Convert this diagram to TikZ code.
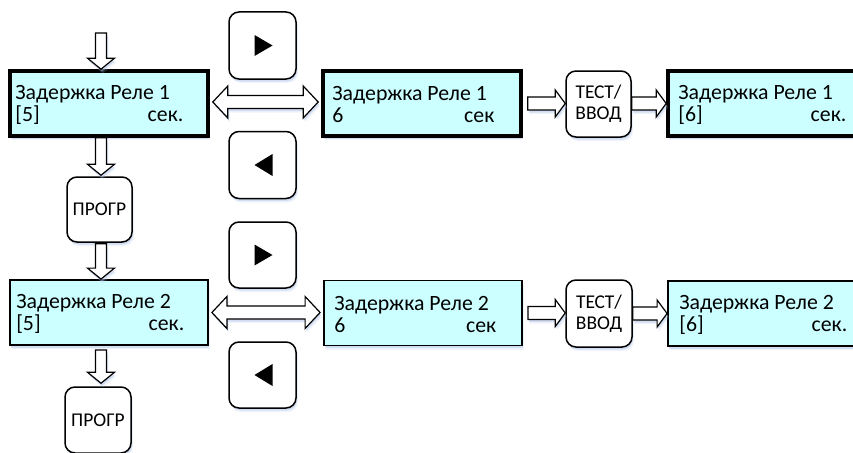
\documentclass[tikz,border=0pt]{standalone}
\usepackage{fontspec}
\setmainfont{Carlito}
\usetikzlibrary{calc,shadows}

\definecolor{lcd}{RGB}{204,255,255}
\definecolor{shade}{RGB}{175,195,230}

% second display line: value on the left, unit pushed to the right edge
\newcommand\lcdline[3]{\makebox[#1][s]{#2\hfill#3}}

% block arrows: east-pointing, south-pointing and two-headed
\newcommand\arrowE[2]{\path[blockarrow] let \p1=#1, \p2=#2 in
  (\x1,\y1+6.5pt) -- (\x2-10pt,\y1+6.5pt) -- (\x2-10pt,\y1+13.5pt) -- (\x2,\y1)
  -- (\x2-10pt,\y1-13.5pt) -- (\x2-10pt,\y1-6.5pt) -- (\x1,\y1-6.5pt) -- cycle;}
\newcommand\arrowS[2]{\path[blockarrow] let \p1=#1, \p2=#2 in
  (\x1-5.5pt,\y1) -- (\x1-5.5pt,\y2+11pt) -- (\x1-13.5pt,\y2+11pt) -- (\x1,\y2)
  -- (\x1+13.5pt,\y2+11pt) -- (\x1+5.5pt,\y2+11pt) -- (\x1+5.5pt,\y1) -- cycle;}
\newcommand\arrowEW[2]{\path[blockarrow] let \p1=#1, \p2=#2 in
  (\x1,\y1) -- (\x1+15pt,\y1+16pt) -- (\x1+15pt,\y1+6.5pt) -- (\x2-15pt,\y1+6.5pt)
  -- (\x2-15pt,\y1+16pt) -- (\x2,\y1) -- (\x2-15pt,\y1-16pt) -- (\x2-15pt,\y1-6.5pt)
  -- (\x1+15pt,\y1-6.5pt) -- (\x1+15pt,\y1-16pt) -- cycle;}

\tikzset{
  haze/.style={drop shadow={shadow xshift=1pt,shadow yshift=-2.5pt,fill=shade,opacity=.45},
               drop shadow={shadow xshift=2pt,shadow yshift=-4pt,fill=shade,opacity=.2}},
  screen/.style={draw, fill=lcd, minimum width=198pt, minimum height=65pt, inner sep=0pt, haze},
  screenbold/.style={screen, line width=3.6pt},
  screenthin/.style={screen, line width=1.8pt},
  screentext/.style={anchor=west, align=left, inner sep=0pt,
                     font=\fontsize{21.8}{22}\selectfont},
  key/.style={draw, fill=white, rounded corners=10pt, line width=1.5pt, inner sep=0pt,
              align=center, font=\fontsize{19.5}{21}\selectfont, haze},
  blockarrow/.style={draw, fill=white, line width=1.2pt, line join=miter, haze},
  play/.style={fill=black},
}

\begin{document}
\begin{tikzpicture}[x=1pt,y=-1pt]
\useasboundingbox (0,0) rectangle (853,452);
\clip (0,0) rectangle (853,452);

% ---------- relay 1 ----------
\node[screenbold] (r1a) at (109,103.5) {};
\node[screenbold] (r1b) at (422,103.5) {};
\node[screenbold] (r1c) at (767,103.5) {};
\node[screentext] (r1at) at ($(r1a.west)+(7,1.5)$) {Задержка Реле 1\\\lcdline{168pt}{[5]}{сек.}};
\node[screentext] (r1bt) at ($(r1b.west)+(11,1.5)$) {Задержка Реле 1\\\lcdline{162pt}{6}{сек}};
\node[screentext] (r1ct) at ($(r1c.west)+(12,1.5)$) {Задержка Реле 1\\\lcdline{168pt}{[6]}{сек.}};

\node[key, minimum width=67pt, minimum height=67pt] (k1fwd) at (262.5,45.5) {};
\node[key, minimum width=67pt, minimum height=67pt] (k1back) at (262.5,165) {};
\node[key, minimum width=65pt, minimum height=65pt] (k1prog) at (99.5,209.5) {ПРОГР};
\node[key, minimum width=65pt, minimum height=66pt] (k1test) at (598.5,104) {ТЕСТ/\\ВВОД};

% ---------- relay 2 ----------
\node[screenthin] (r2a) at (109,312.5) {};
\node[screenthin] (r2b) at (423,313) {};
\node[screenthin] (r2c) at (767,313.5) {};
\node[screentext] (r2at) at ($(r2a.west)+(7,1.5)$) {Задержка Реле 2\\\lcdline{168pt}{[5]}{сек.}};
\node[screentext] (r2bt) at ($(r2b.west)+(11,1.5)$) {Задержка Реле 2\\\lcdline{162pt}{6}{сек}};
\node[screentext] (r2ct) at ($(r2c.west)+(12,1.5)$) {Задержка Реле 2\\\lcdline{168pt}{[6]}{сек.}};

\node[key, minimum width=67pt, minimum height=66pt] (k2fwd) at (262.5,255) {};
\node[key, minimum width=67pt, minimum height=66pt] (k2back) at (262.5,375) {};
\node[key, minimum width=66pt, minimum height=66pt] (k2prog) at (98,420) {ПРОГР};
\node[key, minimum width=66pt, minimum height=67pt] (k2test) at (599,313.5) {ТЕСТ/\\ВВОД};

% arrow glyphs on the scroll keys
\fill[play] ($(k1fwd.center)+(-8,-10.5)$) -- ++(18,10.5) -- ++(-18,10.5) -- cycle;
\fill[play] ($(k1back.center)+(10,-11)$) -- ++(-18,11) -- ++(18,11) -- cycle;
\fill[play] ($(k2fwd.center)+(-8,-10.5)$) -- ++(18,10.5) -- ++(-18,10.5) -- cycle;
\fill[play] ($(k2back.center)+(10,-11)$) -- ++(-18,11) -- ++(18,11) -- cycle;

% ---------- connectors ----------
\coordinate (col) at (101,0);
\coordinate (entry) at (101,33);

\arrowS{(entry)}{(r1a.north -| col)}
\arrowS{(r1a.south -| col)}{($(k1prog.north -| col)+(0,-1)$)}
\arrowS{($(k1prog.south -| col)+(0,1)$)}{(r2a.north -| col)}
\arrowS{($(r2a.south -| col)+(0,4)$)}{($(k2prog.north -| col)+(0,-3)$)}

\arrowEW{($(r1a.east)+(3,-1.5)$)}{($(r1b.west)+(-3,-1.5)$)}
\arrowEW{($(r2a.east)+(3,0)$)}{($(r2b.west)+(-3,0)$)}

\arrowE{($(r1b.east)+(5,0)$)}{(k1test.west |- r1b.east)}
\arrowE{(k1test.east |- r1c.west)}{(r1c.west)}
\arrowE{($(r2b.east)+(5,0)$)}{(k2test.west |- r2b.east)}
\arrowE{(k2test.east |- r2c.west)}{(r2c.west)}
\end{tikzpicture}
\end{document}
